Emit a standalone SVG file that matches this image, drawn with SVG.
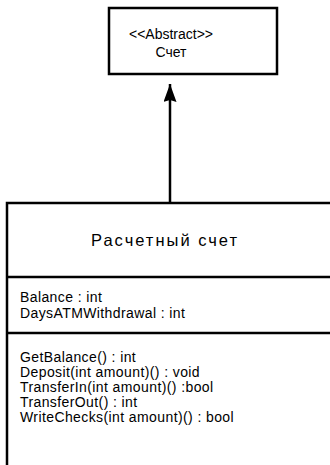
<svg xmlns="http://www.w3.org/2000/svg" width="330" height="465" viewBox="0 0 330 465">
<style>
.box{fill:#fff;stroke:#000;stroke-width:2.5}
.ln{stroke:#000;stroke-width:2.5;fill:none}
text{font-family:"Liberation Sans",Arial,sans-serif;font-size:14px;letter-spacing:0.4px;fill:#000}
.c{text-anchor:middle}
.t{letter-spacing:0}
.h{letter-spacing:2px;font-size:16.5px}
</style>
<defs>
<marker id="ah" markerWidth="18" markerHeight="13" refX="18" refY="6.5" orient="auto" markerUnits="userSpaceOnUse" viewBox="0 0 18 13">
<path d="M18 6.5 L0 0 L2 6.5 L0 13 Z" fill="#000"/>
</marker>
</defs>
<g id="abstract-account">
<rect class="box" x="109" y="8" width="168" height="66"/>
<text class="c t" x="171" y="39">&lt;&lt;Abstract&gt;&gt;</text>
<text class="c t" x="171" y="57">Счет</text>
</g>
<g id="checking-account">
<path class="ln" d="M7 465 V203 H332"/>
<line class="ln" x1="7" y1="277" x2="332" y2="277"/>
<line class="ln" x1="7" y1="333" x2="332" y2="333"/>
<text class="c h" x="165" y="246">Расчетный счет</text>
<text x="20" y="302">Balance : int</text>
<text x="20" y="318">DaysATMWithdrawal : int</text>
<text x="20" y="362">GetBalance() : int</text>
<text x="20" y="377">Deposit(int amount)() : void</text>
<text x="20" y="392">TransferIn(int amount)() :bool</text>
<text x="20" y="407">TransferOut() : int</text>
<text x="20" y="422">WriteChecks(int amount)() : bool</text>
</g>
<g id="connectors">
<line class="ln" x1="170" y1="203" x2="170" y2="84" marker-end="url(#ah)"/>
</g>
</svg>
